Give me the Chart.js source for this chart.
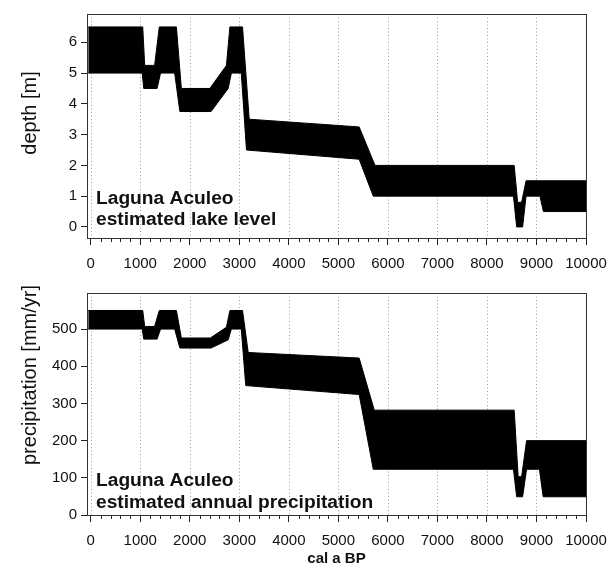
<!DOCTYPE html>
<html><head><meta charset="utf-8">
<script src="https://cdn.jsdelivr.net/npm/chart.js@4.4.0/dist/chart.umd.min.js"></script>
<style>
html,body{margin:0;padding:0;background:#fff;width:609px;height:565px;overflow:hidden;}
canvas{position:absolute;left:0;}
</style></head><body>
<canvas id="c1" width="609" height="280" style="top:0px"></canvas>
<canvas id="c2" width="609" height="288" style="top:280px"></canvas>
<script>
// ---- data (cal a BP vs. estimated bounds) ----
const depthUpperX = [-50, 1050, 1090, 1290, 1385, 1730, 1830, 2405, 2740, 2810, 3065, 3200, 5420, 5740, 8550, 8620, 8700, 8790, 10000];
const depthUpperY = [6.5, 6.5, 5.25, 5.25, 6.5, 6.5, 4.5, 4.5, 5.25, 6.5, 6.5, 3.5, 3.25, 2.0, 2.0, 0.8, 0.8, 1.5, 1.5];
const depthLowerX = [-50, 1040, 1070, 1340, 1410, 1695, 1800, 2430, 2775, 2840, 3040, 3145, 5420, 5705, 8535, 8600, 8720, 8790, 9070, 9140, 10000];
const depthLowerY = [5.0, 5.0, 4.5, 4.5, 5.0, 5.0, 3.75, 3.75, 4.5, 5.0, 5.0, 2.5, 2.2, 1.0, 1.0, 0.0, 0.0, 1.0, 1.0, 0.5, 0.5];

const precUpperX = [-50, 1050, 1090, 1290, 1385, 1730, 1830, 2415, 2740, 2810, 3065, 3180, 5420, 5725, 8550, 8630, 8700, 8800, 10000];
const precUpperY = [550, 550, 507, 507, 550, 550, 476, 476, 505, 550, 550, 437, 422, 282, 282, 103, 103, 200, 200];
const precLowerX = [-50, 1040, 1070, 1340, 1410, 1695, 1800, 2430, 2775, 2840, 3040, 3130, 5420, 5705, 8535, 8600, 8720, 8800, 9060, 9135, 10000];
const precLowerY = [500, 500, 473, 473, 500, 500, 449, 449, 471, 500, 500, 348, 324, 123, 123, 49, 49, 123, 123, 49, 49];

const xMajorTicks = [0, 1000, 2000, 3000, 4000, 5000, 6000, 7000, 8000, 9000, 10000];
const xMinorTicks = [200,400,600,800,1200,1400,1600,1800,2200,2400,2600,2800,3200,3400,3600,3800,4200,4400,4600,4800,5200,5400,5600,5800,6200,6400,6600,6800,7200,7400,7600,7800,8200,8400,8600,8800,9200,9400,9600,9800];
const depthTicks = [0, 1, 2, 3, 4, 5, 6];
const precTicks = [0, 100, 200, 300, 400, 500];

const FONT = "'Liberation Sans', Arial, Helvetica, sans-serif";

function pts(xs, ys){ return xs.map((x,i)=>({x:x, y:ys[i]})); }

const decor = {
  id: 'decor',
  beforeDatasetsDraw(chart){
    const {ctx, chartArea:a, scales:{x}} = chart;
    ctx.save();
    ctx.strokeStyle = '#9a9a9a';
    ctx.lineWidth = 1;
    ctx.setLineDash([1,2.5]);
    xMajorTicks.forEach(v=>{
      if (v >= 10000) return;
      const px = Math.round(x.getPixelForValue(v)) + 0.5;
      ctx.beginPath(); ctx.moveTo(px, a.top); ctx.lineTo(px, a.bottom); ctx.stroke();
    });
    ctx.restore();
  },
  afterDraw(chart, args, opts){
    const {ctx, chartArea:a, scales:{x}} = chart;
    ctx.save();
    ctx.strokeStyle = '#222';
    ctx.lineWidth = 1;
    // minor ticks
    xMinorTicks.forEach(v=>{
      const px = Math.round(x.getPixelForValue(v)) + 0.5;
      ctx.beginPath(); ctx.moveTo(px, a.bottom); ctx.lineTo(px, a.bottom + 4); ctx.stroke();
    });
    // box
    ctx.strokeStyle = '#333';
    ctx.strokeRect(Math.round(a.left)+0.5, Math.round(a.top)+0.5, Math.round(a.right-a.left), Math.round(a.bottom-a.top));
    // y-axis title
    ctx.fillStyle = '#111';
    ctx.save();
    ctx.translate(opts.titleX, opts.titleY);
    ctx.rotate(-Math.PI/2);
    ctx.font = '20px ' + FONT;
    ctx.textAlign = 'center';
    ctx.textBaseline = 'middle';
    ctx.fillText(opts.yTitle, 0, 0);
    ctx.restore();
    // annotation
    ctx.font = 'bold 19.2px ' + FONT;
    ctx.textAlign = 'left';
    ctx.textBaseline = 'alphabetic';
    ctx.fillText(opts.line1, a.left + 9, a.bottom + opts.y1);
    ctx.fillText(opts.line2, a.left + 9, a.bottom + opts.y2);
    ctx.restore();
  }
};

function makeChart(id, upX, upY, loX, loY, yMin, yMax, yTicks, yTitle, titleY, padTop, xHeight, showXTitle, line1, line2, y1, y2){
  return new Chart(document.getElementById(id), {
    type: 'line',
    data: {
      datasets: [
        { data: pts(loX, loY), borderColor:'#000', borderWidth:1, pointRadius:0, fill:false, tension:0 },
        { data: pts(upX, upY), borderColor:'#000', borderWidth:1, pointRadius:0, backgroundColor:'#000', fill:'-1', tension:0 }
      ]
    },
    options: {
      responsive: false,
      animation: false,
      events: [],
      layout: { padding: { left:0, right:23, top:padTop, bottom:0 } },
      plugins: { legend:{display:false}, tooltip:{enabled:false},
        decor: { line1: line1, line2: line2, y1: y1, y2: y2, yTitle: yTitle, titleX: 30, titleY: titleY } },
      scales: {
        x: {
          type:'linear', min:-75, max:10000,
          afterBuildTicks: s => { s.ticks = xMajorTicks.map(v=>({value:v})); },
          afterFit: s => { s.height = xHeight; s.paddingRight = 0; s.paddingLeft = 0; },
          grid: { drawOnChartArea:false, drawTicks:true, tickLength:7, tickColor:'#222' },
          border: { display:false },
          ticks: { color:'#111', font:{family:FONT, size:15}, padding:10, maxRotation:0, autoSkip:false,
                   callback: v => String(v) },
          title: { display: showXTitle, text:'cal a BP', color:'#111', font:{family:FONT, size:15, weight:'bold'}, padding:{top:0,bottom:0} }
        },
        y: {
          type:'linear', min:yMin, max:yMax,
          afterBuildTicks: s => { s.ticks = yTicks.map(v=>({value:v})); },
          afterFit: s => { s.width = 87; },
          grid: { drawOnChartArea:false, drawTicks:true, tickLength:6, tickColor:'#222' },
          border: { display:false },
          ticks: { color:'#111', font:{family:FONT, size:15}, padding:4, autoSkip:false, callback: v => String(v) },
          title: { display:false }
        }
      }
    },
    plugins: [decor]
  });
}

makeChart('c1', depthUpperX, depthUpperY, depthLowerX, depthLowerY, -0.36, 6.92, depthTicks, 'depth [m]', 113, 14, 42, false,
  'Laguna Aculeo', 'estimated lake level', -34, -13);
makeChart('c2', precUpperX, precUpperY, precLowerX, precLowerY, 0, 597, precTicks, 'precipitation [mm/yr]', 95, 12, 53, true,
  'Laguna Aculeo', 'estimated annual precipitation', -29, -7);
</script>
</body></html>
